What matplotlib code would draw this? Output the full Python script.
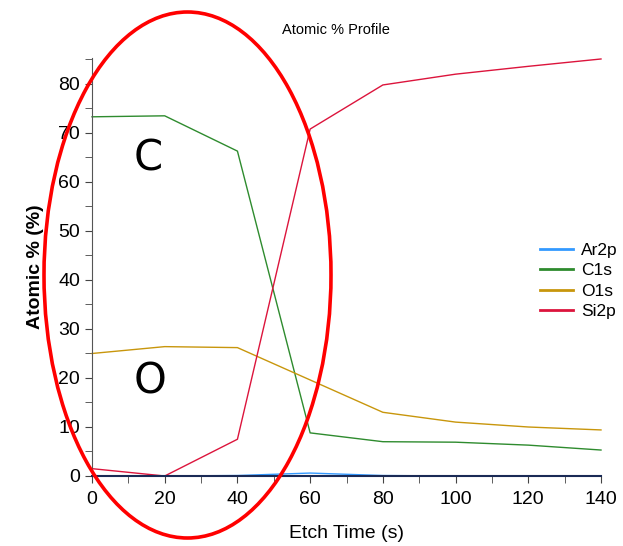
import matplotlib
matplotlib.use("Agg")
import matplotlib.pyplot as plt
import matplotlib.patches as patches
from matplotlib.ticker import MultipleLocator

plt.rcParams['font.family'] = ['Liberation Sans', 'DejaVu Sans']

# Etch profile data
etch_time = [0, 20, 40, 60, 80, 100, 120, 140]
ar2p = [0.0, 0.0, 0.1, 0.6, 0.1, 0.0, 0.0, 0.0]
c1s = [73.3, 73.5, 66.3, 8.8, 7.0, 6.9, 6.3, 5.3]
o1s = [25.0, 26.4, 26.2, 19.6, 13.0, 11.0, 10.0, 9.4]
si2p = [1.5, 0.0, 7.5, 70.8, 79.8, 82.0, 83.6, 85.1]

series_names = ["Ar2p", "C1s", "O1s", "Si2p"]
series_colors = ["#3399ff", "#2e8b2e", "#c8960c", "#dc143c"]

fig = plt.figure(figsize=(6.23, 5.46), dpi=100)
fig.patch.set_facecolor("white")
ax = fig.add_axes([92 / 623, 1 - 476 / 546, 509 / 623, 418 / 546])

for name, vals, col in zip(series_names, [ar2p, c1s, o1s, si2p], series_colors):
    ax.plot(etch_time, vals, color=col, lw=1.0, label=name, clip_on=False)

ax.set_xlim(0, 140)
ax.set_ylim(0, 85.3)
ax.xaxis.set_major_locator(MultipleLocator(20))
ax.xaxis.set_minor_locator(MultipleLocator(10))
ax.yaxis.set_major_locator(MultipleLocator(10))
ax.yaxis.set_minor_locator(MultipleLocator(5))
ax.tick_params(which="both", direction="out", length=5, color="#444444", labelsize=14)
ax.tick_params(axis="x", pad=6)

for side in ["top", "right"]:
    ax.spines[side].set_visible(False)
ax.spines["left"].set_color("#555555")
ax.spines["bottom"].set_color("#1a2a55")
ax.spines["bottom"].set_linewidth(1.5)

ax.set_xlabel("Etch Time (s)", fontsize=14, labelpad=12)
ax.set_ylabel("Atomic % (%)", fontsize=14, fontweight="bold", labelpad=10)
fig.text(336 / 623, 1 - 30 / 546, "Atomic % Profile", ha="center", va="center", fontsize=10.5)

leg = fig.legend(loc="center left", bbox_to_anchor=(540 / 623, 1 - 281 / 546), frameon=False,
                 fontsize=12.5, handlelength=1.9, handletextpad=0.45, labelspacing=0.3,
                 borderpad=0, borderaxespad=0)
for h in leg.get_lines():
    h.set_linewidth(2.0)

# annotations drawn on top
fig.text(148 / 623, 1 - 158 / 546, "C", ha="center", va="center", fontsize=30, family="DejaVu Sans")
fig.text(150 / 623, 1 - 381 / 546, "O", ha="center", va="center", fontsize=30, family="DejaVu Sans")
ell = patches.Ellipse((187.5 / 623, 1 - 275 / 546), 287 / 623, 526 / 546,
                      transform=fig.transFigure, fill=False, edgecolor="red", lw=2.6)
fig.add_artist(ell)

fig.savefig("out.png", dpi=100)
